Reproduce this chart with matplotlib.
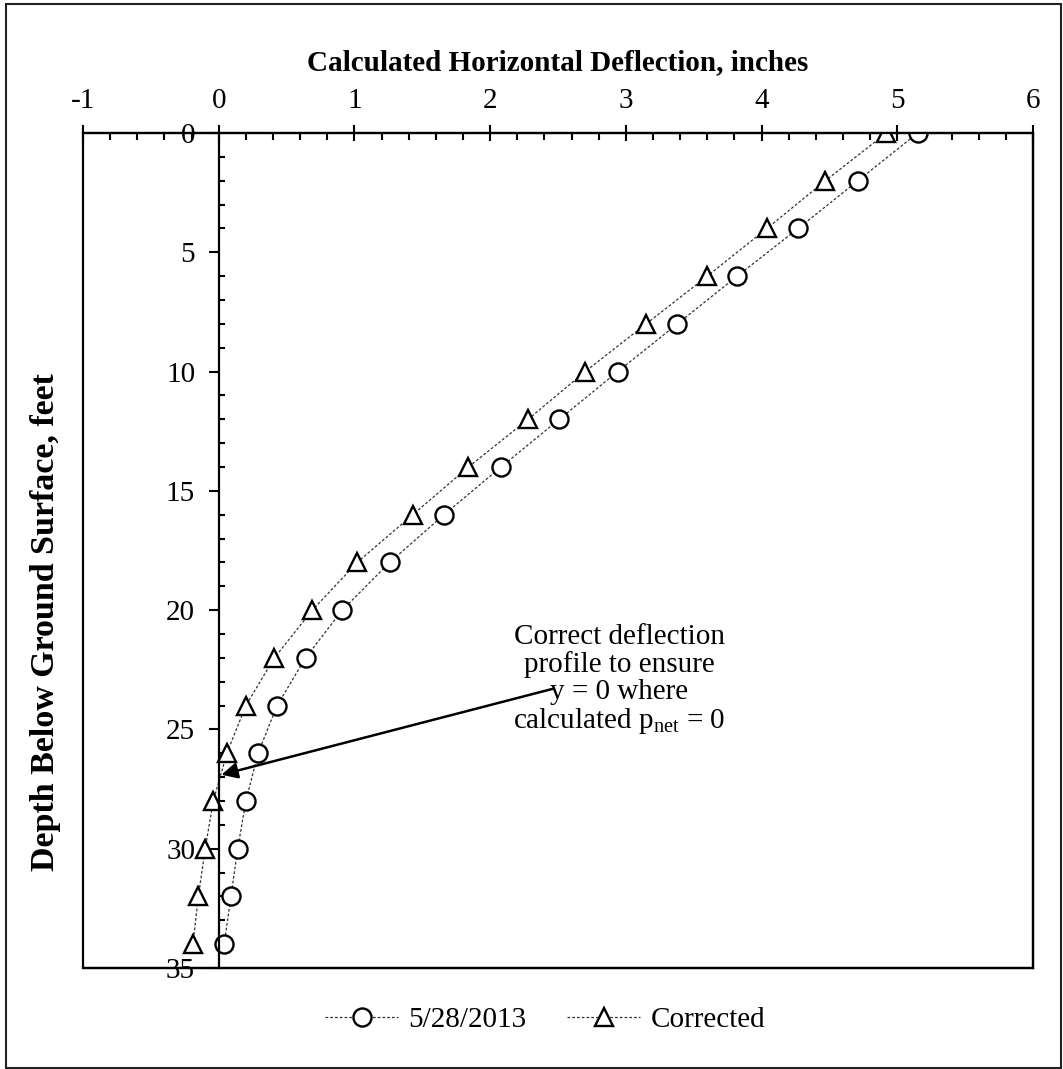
import matplotlib
matplotlib.use('Agg')
from matplotlib import pyplot as plt
from matplotlib.patches import Rectangle
from matplotlib.ticker import MultipleLocator

plt.rcParams['font.family'] = ['Liberation Serif', 'DejaVu Serif']
plt.rcParams['mathtext.fontset'] = 'custom'
plt.rcParams['mathtext.rm'] = 'Liberation Serif'
plt.rcParams['axes.unicode_minus'] = False

depth = [0, 2, 4, 6, 8, 10, 12, 14, 16, 18, 20, 22, 24, 26, 28, 30, 32, 34]
measured = [5.15, 4.71, 4.27, 3.82, 3.38, 2.94, 2.51, 2.08, 1.66, 1.26, 0.91,
            0.64, 0.43, 0.29, 0.20, 0.14, 0.09, 0.04]
corrected = [4.92, 4.47, 4.04, 3.60, 3.15, 2.70, 2.28, 1.84, 1.43, 1.02, 0.69,
             0.41, 0.20, 0.06, -0.04, -0.10, -0.15, -0.19]

FS = 21
W, H = 1063, 1069
fig = plt.figure(figsize=(W / 100, H / 100), dpi=100)
ax = fig.add_axes([83 / W, 1 - 968 / H, (1033 - 83) / W, (968 - 133) / H])

line_style = dict(color='#333333', lw=0.9, linestyle=(0, (2.2, 1.6)),
                  mfc='white', mec='black', mew=1.7, ms=13)
ax.plot(measured, depth, marker='o', label='5/28/2013', **line_style)
ax.plot(corrected, depth, marker='^', label='Corrected', **line_style)

ax.set_xlim(-1, 6)
ax.set_ylim(35, 0)

ax.xaxis.tick_top()
ax.xaxis.set_label_position('top')
ax.xaxis.set_major_locator(MultipleLocator(1))
ax.xaxis.set_minor_locator(MultipleLocator(0.2))
ax.yaxis.set_major_locator(MultipleLocator(5))
ax.yaxis.set_minor_locator(MultipleLocator(1))

ax.spines['left'].set_position(('data', 0))
for s in ax.spines.values():
    s.set_linewidth(1.6)
ax.add_patch(Rectangle((0, 0), 1, 1, transform=ax.transAxes, fill=False,
                       lw=1.6, ec='black', clip_on=False))

ax.tick_params(axis='x', which='major', direction='inout', length=11, width=1.5,
               labelsize=FS, pad=8)
ax.tick_params(axis='x', which='minor', direction='in', length=5, width=1.5)
ax.tick_params(axis='y', which='major', direction='out', length=7, width=1.5,
               labelsize=FS, pad=10)
ax.tick_params(axis='y', which='minor', direction='in', length=4, width=1.5)

ax.set_xlabel('Calculated Horizontal Deflection, inches', fontsize=FS,
              fontweight='bold', labelpad=13)
fig.text(46 / W, 1 - 622 / H, 'Depth Below Ground Surface, feet', rotation=90,
         ha='center', va='center', fontsize=24.5, fontweight='bold')

ax.annotate('', xy=(0.02, 26.9), xytext=(2.46, 23.3),
            arrowprops=dict(arrowstyle='-|>', lw=1.8, color='black',
                            mutation_scale=24, shrinkA=0, shrinkB=0))
ax.text(2.95, 22.92,
        'Correct deflection\nprofile to ensure\ny = 0 where\n'
        'calculated p$_\\mathregular{net}$ = 0',
        ha='center', va='center', fontsize=FS, linespacing=1.05)

fig.legend(loc='center', bbox_to_anchor=(545 / W, 1 - 1020 / H), ncol=2,
           frameon=False, fontsize=FS, handlelength=2.5, handletextpad=0.35,
           columnspacing=1.4)

fig.add_artist(Rectangle((6 / W, 1 / H), (1061 - 6) / W, (1068 - 4) / H,
                         transform=fig.transFigure, fill=False, lw=1.5,
                         ec='#222222'))

fig.savefig('out.png', dpi=100)
